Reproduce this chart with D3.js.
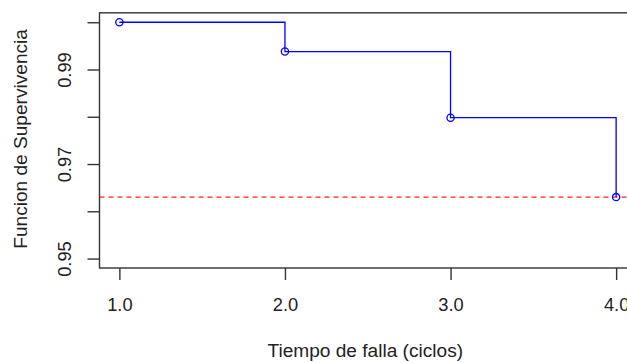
<!DOCTYPE html>
<html>
<head>
<meta charset="utf-8">
<script src="https://cdn.jsdelivr.net/npm/d3@7/dist/d3.min.js"></script>
<style>
  html, body { margin: 0; padding: 0; background: #fff; }
  svg { display: block; }
  text { font-family: "Liberation Sans", Arial, sans-serif; fill: #222; }
</style>
</head>
<body>
<svg id="chart" width="627" height="363"></svg>
<script>
// Data
const times = [1, 2, 3, 4];
const survival = [1.0, 0.9938, 0.9798, 0.9630];
const refLine = 0.9630;
const xTicks = [1, 2, 3, 4];
const xTickLabels = ["1.0", "2.0", "3.0", "4.0"];
const yTicks = [0.95, 0.96, 0.97, 0.98, 0.99, 1.00];
const yTickLabels = ["0.95", "", "0.97", "", "0.99", ""];
const xTitle = "Tiempo de falla (ciclos)";
const yTitle = "Funcion de Supervivencia";

(function () {
const svg = d3.select("#chart");
const pLeft = 99.5, pRight = 636, pTop = 12.8, pBottom = 268;

const x = d3.scaleLinear().domain([0.88, 4.12]).range([pLeft, pRight]);
const y = d3.scaleLinear().domain([0.948, 1.002]).range([pBottom, pTop]);

const axisColor = "#333";
const tickFont = 18.3;
const titleFont = 19.1;

// Box
svg.append("rect")
  .attr("x", pLeft).attr("y", pTop)
  .attr("width", pRight - pLeft).attr("height", pBottom - pTop)
  .attr("fill", "none").attr("stroke", axisColor).attr("stroke-width", 1.4);

// X axis
const xAxis = d3.axisBottom(x).tickValues(xTicks)
  .tickFormat((d, i) => xTickLabels[i]).tickSize(12);
const gx = svg.append("g").attr("transform", `translate(0,${pBottom})`).call(xAxis);
gx.select(".domain").remove();
gx.selectAll(".tick line").attr("stroke", axisColor).attr("stroke-width", 1.4);
gx.selectAll(".tick text").attr("font-size", tickFont).attr("fill", "#222")
  .attr("font-family", "Liberation Sans, Arial, sans-serif")
  .attr("dy", null).attr("y", 43);

// Y axis
const yAxis = d3.axisLeft(y).tickValues(yTicks)
  .tickFormat((d, i) => yTickLabels[i]).tickSize(12);
const gy = svg.append("g").attr("transform", `translate(${pLeft},0)`).call(yAxis);
gy.select(".domain").remove();
gy.selectAll(".tick line").attr("stroke", axisColor).attr("stroke-width", 1.4);
gy.selectAll(".tick text")
  .attr("font-size", tickFont).attr("fill", "#222")
  .attr("font-family", "Liberation Sans, Arial, sans-serif")
  .attr("x", null).attr("dy", null)
  .attr("text-anchor", "middle")
  .attr("transform", "translate(-28.5,0) rotate(-90)");

// Axis titles
svg.append("text")
  .attr("x", (pLeft + pRight) / 2 - 2.5).attr("y", 357)
  .attr("text-anchor", "middle").attr("font-size", titleFont)
  .text(xTitle);
svg.append("text")
  .attr("transform", `translate(27,${(pTop + pBottom) / 2 - 1.5}) rotate(-90)`)
  .attr("text-anchor", "middle").attr("font-size", titleFont)
  .text(yTitle);

// Clip for plot region
svg.append("clipPath").attr("id", "clip")
  .append("rect").attr("x", pLeft).attr("y", pTop)
  .attr("width", pRight - pLeft).attr("height", pBottom - pTop);

const plot = svg.append("g").attr("clip-path", "url(#clip)");

// Reference dashed line
plot.append("line")
  .attr("x1", pLeft).attr("x2", pRight)
  .attr("y1", y(refLine)).attr("y2", y(refLine))
  .attr("stroke", "#ff2020").attr("stroke-width", 1.3)
  .attr("stroke-dasharray", "5,4");

// Step line
const data = times.map((t, i) => [t, survival[i]]);
const line = d3.line().x(d => x(d[0])).y(d => y(d[1])).curve(d3.curveStepAfter);
plot.append("path").datum(data)
  .attr("d", line).attr("fill", "none")
  .attr("stroke", "#0000ff").attr("stroke-width", 1.3);

// Points
plot.selectAll("circle.pt").data(data).enter().append("circle")
  .attr("class", "pt")
  .attr("cx", d => x(d[0])).attr("cy", d => y(d[1]))
  .attr("r", 3.6).attr("fill", "none")
  .attr("stroke", "#0000ff").attr("stroke-width", 1.3);
})();
</script>
</body>
</html>
